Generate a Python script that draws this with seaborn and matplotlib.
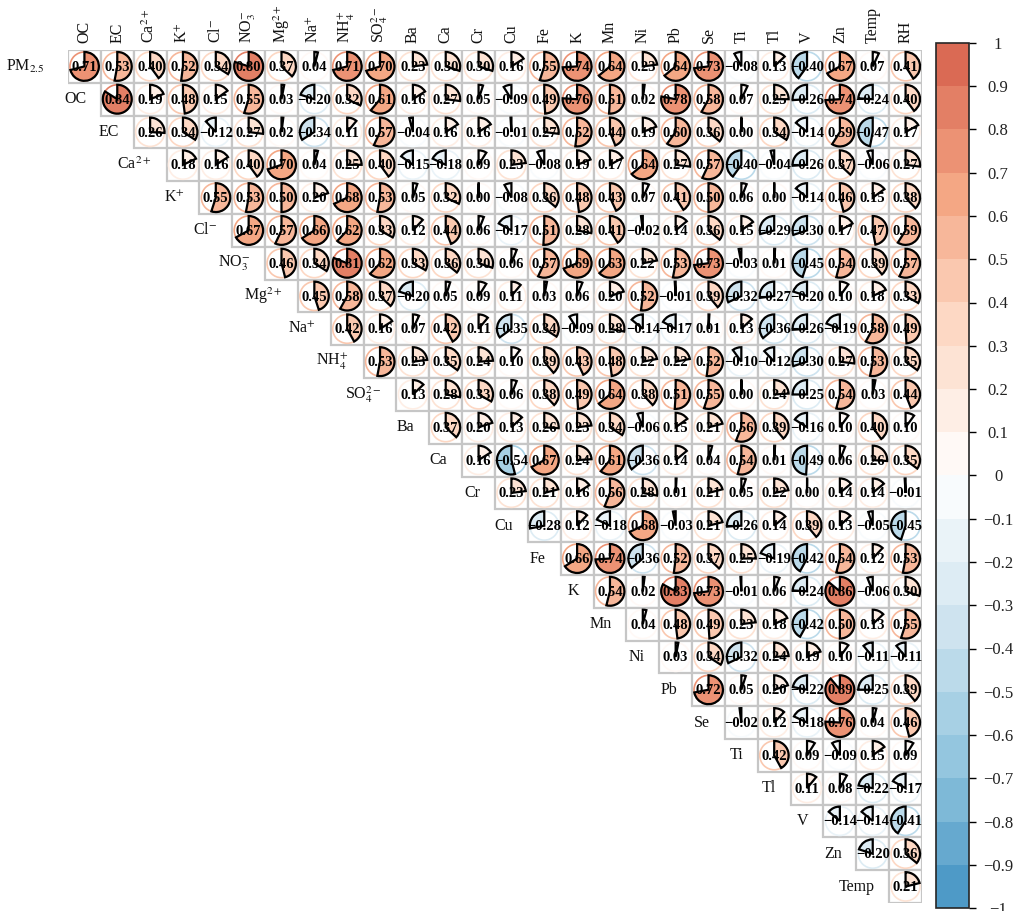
import numpy as np
import matplotlib
matplotlib.use('Agg')
import matplotlib.pyplot as plt
import seaborn as sns
import pandas as pd
from matplotlib.patches import Wedge, Circle, Rectangle
from matplotlib.colors import LinearSegmentedColormap, BoundaryNorm, ListedColormap
import matplotlib as mpl

# ---------------- data ----------------
col_labels = ['OC', 'EC', r'Ca$^{2+}$', r'K$^{+}$', r'Cl$^{-}$', r'NO$_3^{-}$', r'Mg$^{2+}$',
              r'Na$^{+}$', r'NH$_4^{+}$', r'SO$_4^{2-}$', 'Ba', 'Ca', 'Cr', 'Cu', 'Fe', 'K',
              'Mn', 'Ni', 'Pb', 'Se', 'Ti', 'Tl', 'V', 'Zn', 'Temp', 'RH']
row_labels = [r'PM$_{2.5}$'] + col_labels[:-1]

r_pm25 = [0.71, 0.53, 0.40, 0.52, 0.34, 0.80, 0.37, 0.04, 0.71, 0.70, 0.23, 0.30, 0.30, 0.16,
          0.55, 0.74, 0.64, 0.23, 0.64, 0.73, -0.08, 0.13, -0.40, 0.67, 0.07, 0.41]
r_oc = [0.84, 0.19, 0.48, 0.15, 0.55, 0.03, -0.20, 0.32, 0.61, 0.16, 0.27, 0.05, -0.09, 0.49,
        0.76, 0.51, 0.02, 0.78, 0.58, 0.07, 0.25, -0.26, 0.74, -0.24, 0.40]
r_ec = [0.26, 0.34, -0.12, 0.27, 0.02, -0.34, 0.11, 0.57, -0.04, 0.16, 0.16, -0.01, 0.27, 0.52,
        0.44, 0.19, 0.60, 0.36, 0.00, 0.34, -0.14, 0.59, -0.47, 0.17]
r_ca2 = [0.18, 0.16, 0.40, 0.70, 0.04, 0.25, 0.40, -0.15, -0.18, 0.09, 0.23, -0.08, 0.19, 0.17,
         0.64, 0.27, 0.57, -0.40, -0.04, -0.26, 0.37, -0.06, 0.27]
r_kp = [0.55, 0.53, 0.50, 0.20, 0.68, 0.53, 0.05, 0.32, 0.00, -0.08, 0.36, 0.48, 0.43, 0.07,
        0.41, 0.50, 0.06, 0.00, -0.14, 0.46, 0.15, 0.38]
r_cl = [0.67, 0.57, 0.66, 0.62, 0.33, 0.12, 0.44, 0.06, -0.17, 0.51, 0.28, 0.41, -0.02, 0.14,
        0.36, 0.15, -0.29, -0.30, 0.17, 0.47, 0.59]
r_no3 = [0.46, 0.34, 0.81, 0.62, 0.33, 0.36, 0.30, 0.06, 0.57, 0.69, 0.63, 0.22, 0.53, 0.73,
         -0.03, 0.01, -0.45, 0.54, 0.39, 0.57]
r_mg = [0.45, 0.58, 0.37, -0.20, 0.05, 0.09, 0.11, 0.03, 0.06, 0.20, 0.52, -0.01, 0.39, -0.32,
        -0.27, -0.20, 0.10, 0.18, 0.33]
r_na = [0.42, 0.16, 0.07, 0.42, 0.11, -0.35, 0.34, -0.09, 0.28, -0.14, -0.17, 0.01, 0.13, -0.36,
        -0.26, -0.19, 0.58, 0.49]
r_nh4 = [0.53, 0.23, 0.35, 0.24, 0.10, 0.39, 0.43, 0.48, 0.22, 0.22, 0.52, -0.10, -0.12, -0.30,
         0.27, 0.53, 0.35]
r_so4 = [0.13, 0.28, 0.33, 0.06, 0.38, 0.49, 0.64, 0.38, 0.51, 0.55, 0.00, 0.24, -0.25, 0.54,
         0.03, 0.44]
r_ba = [0.37, 0.20, 0.13, 0.26, 0.23, 0.34, -0.06, 0.15, 0.21, 0.56, 0.39, -0.16, 0.10, 0.40, 0.10]
r_ca = [0.16, -0.54, 0.67, 0.24, 0.61, -0.36, 0.14, 0.04, 0.54, 0.01, -0.49, 0.06, 0.26, 0.35]
r_cr = [0.23, 0.21, 0.16, 0.56, 0.28, 0.01, 0.21, 0.05, 0.22, 0.00, 0.14, 0.14, -0.01]
r_cu = [-0.28, 0.12, -0.18, 0.68, -0.03, 0.21, -0.26, 0.14, 0.39, 0.13, -0.05, -0.45]
r_fe = [0.66, 0.74, -0.36, 0.52, 0.37, 0.25, -0.19, -0.42, 0.54, 0.12, 0.53]
r_k = [0.54, 0.02, 0.83, 0.73, -0.01, 0.06, -0.24, 0.86, -0.06, 0.30]
r_mn = [0.04, 0.48, 0.49, 0.23, 0.18, -0.42, 0.50, 0.13, 0.55]
r_ni = [0.03, 0.34, -0.32, 0.24, 0.19, 0.10, -0.11, -0.11]
r_pb = [0.72, 0.05, 0.20, -0.22, 0.89, -0.25, 0.39]
r_se = [-0.02, 0.12, -0.18, 0.76, 0.04, 0.46]
r_ti = [0.42, 0.09, -0.09, 0.15, 0.09]
r_tl = [0.11, 0.08, -0.22, -0.17]
r_v = [-0.14, -0.14, -0.41]
r_zn = [-0.20, 0.36]
r_temp = [0.21]

rows = [r_pm25, r_oc, r_ec, r_ca2, r_kp, r_cl, r_no3, r_mg, r_na, r_nh4, r_so4, r_ba, r_ca,
        r_cr, r_cu, r_fe, r_k, r_mn, r_ni, r_pb, r_se, r_ti, r_tl, r_v, r_zn, r_temp]

n = len(col_labels)
M = np.full((n, n), np.nan)
for i, vals in enumerate(rows):
    assert len(vals) == n - i, (i, len(vals))
    M[i, i:] = vals
df = pd.DataFrame(M, index=range(n), columns=range(n))

# ---------------- style ----------------
sns.set_style('white')
plt.rcParams['font.family'] = ['Liberation Serif', 'DejaVu Serif']
plt.rcParams['mathtext.fontset'] = 'stix'
plt.rcParams['text.color'] = 'black'

cmap = LinearSegmentedColormap.from_list(
    'corr', ['#4393C3', '#92C5DE', '#D1E5F0', '#FFFFFF', '#FDDBC7', '#F4A582', '#D6604D'])
bounds = np.linspace(-1, 1, 21)
centers = (bounds[:-1] + bounds[1:]) / 2
dcmap = ListedColormap([cmap((c + 1) / 2) for c in centers])
norm = BoundaryNorm(bounds, dcmap.N)

fig = plt.figure(figsize=(10.2, 9.11), dpi=100)
ax = fig.add_axes([68 / 1020, 1 - 903 / 911, 854 / 1020, 853 / 911])

sns.heatmap(df, mask=df.isna(), cmap=ListedColormap(['white']), linewidths=0,
            cbar=False, ax=ax, xticklabels=False, yticklabels=False)
ax.set_xlim(0, n)
ax.set_ylim(n, 0)
ax.axis('off')

R = 0.44
for i in range(n):
    for j in range(i, n):
        v = M[i, j]
        col = dcmap(norm(v))
        cx, cy = j + 0.5, i + 0.5
        ax.add_patch(Rectangle((j, i), 1, 1, fc='white', ec='#C6C6C6', lw=1.6, zorder=2))
        ax.add_patch(Circle((cx, cy), R, fill=False, ec=col, lw=1.2, zorder=3))
        if v >= 0:
            t1, t2 = -90, -90 + 360 * v
        else:
            t1, t2 = -90 + 360 * v, -90
        if abs(t2 - t1) < 0.5:
            t2 = t1 + 0.5
        ax.add_patch(Wedge((cx, cy), R, t1, t2, fc=col, ec='black', lw=1.6, zorder=4))
        txt = f'{v:.2f}'.replace('-', '\u2212')
        ax.text(cx, cy + 0.03, txt, ha='center', va='center', fontsize=10.5,
                fontweight='bold', zorder=5, color='black')

for j, lab in enumerate(col_labels):
    ax.text(j + 0.5, -0.22, lab, rotation=90, ha='center', va='bottom', fontsize=11.5,
            clip_on=False, color='#111111')
for i, lab in enumerate(row_labels):
    off = 0.7 if i == 0 else 0.45
    ax.text(i - off, i + 0.5, lab, ha='right', va='center', fontsize=11.5, clip_on=False,
            color='#111111')

# ---------------- colorbar ----------------
cax = fig.add_axes([936 / 1020, 1 - 908 / 911, 33 / 1020, 865 / 911])
ticks = np.round(np.arange(-1, 1.01, 0.1), 1)
cb = mpl.colorbar.ColorbarBase(cax, cmap=dcmap, norm=norm, boundaries=bounds,
                               ticks=ticks, orientation='vertical')
labels = []
for t in ticks:
    if abs(t) < 1e-9:
        labels.append('0')
    elif abs(abs(t) - 1) < 1e-9:
        labels.append('1' if t > 0 else '\u22121')
    else:
        labels.append(f'{t:.1f}'.replace('-', '\u2212'))
cb.set_ticklabels(labels)
cax.tick_params(direction='out', length=5, width=1, labelsize=12, pad=16, right=True,
                labelcolor='#222222', color='black')
for lb in cax.get_yticklabels():
    lb.set_horizontalalignment('center')
cb.outline.set_linewidth(1.2)

fig.savefig('out.png', dpi=100)
